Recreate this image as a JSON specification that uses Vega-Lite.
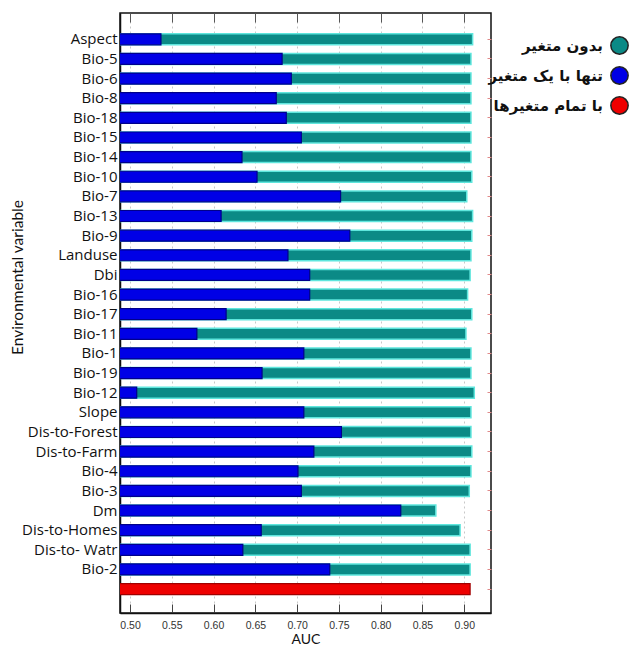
{
  "$schema": "https://vega.github.io/schema/vega-lite/v6.json",
  "autosize": "none",
  "width": 371,
  "height": 600,
  "padding": {"left": 120, "top": 13, "right": 142, "bottom": 35},
  "background": "white",
  "config": {
    "view": {"stroke": "#111", "strokeWidth": 1.5},
    "font": "Lato"
  },
  "data": {
    "values": [
      {"variable": "Aspect", "series": "بدون متغیر", "auc": 0.910},
      {"variable": "Aspect", "series": "تنها با یک متغیر", "auc": 0.537},
      {"variable": "Bio-5", "series": "بدون متغیر", "auc": 0.908},
      {"variable": "Bio-5", "series": "تنها با یک متغیر", "auc": 0.682},
      {"variable": "Bio-6", "series": "بدون متغیر", "auc": 0.908},
      {"variable": "Bio-6", "series": "تنها با یک متغیر", "auc": 0.693},
      {"variable": "Bio-8", "series": "بدون متغیر", "auc": 0.908},
      {"variable": "Bio-8", "series": "تنها با یک متغیر", "auc": 0.675},
      {"variable": "Bio-18", "series": "بدون متغیر", "auc": 0.908},
      {"variable": "Bio-18", "series": "تنها با یک متغیر", "auc": 0.687},
      {"variable": "Bio-15", "series": "بدون متغیر", "auc": 0.908},
      {"variable": "Bio-15", "series": "تنها با یک متغیر", "auc": 0.705},
      {"variable": "Bio-14", "series": "بدون متغیر", "auc": 0.908},
      {"variable": "Bio-14", "series": "تنها با یک متغیر", "auc": 0.634},
      {"variable": "Bio-10", "series": "بدون متغیر", "auc": 0.909},
      {"variable": "Bio-10", "series": "تنها با یک متغیر", "auc": 0.652},
      {"variable": "Bio-7", "series": "بدون متغیر", "auc": 0.903},
      {"variable": "Bio-7", "series": "تنها با یک متغیر", "auc": 0.752},
      {"variable": "Bio-13", "series": "بدون متغیر", "auc": 0.910},
      {"variable": "Bio-13", "series": "تنها با یک متغیر", "auc": 0.609},
      {"variable": "Bio-9", "series": "بدون متغیر", "auc": 0.909},
      {"variable": "Bio-9", "series": "تنها با یک متغیر", "auc": 0.763},
      {"variable": "Landuse", "series": "بدون متغیر", "auc": 0.908},
      {"variable": "Landuse", "series": "تنها با یک متغیر", "auc": 0.689},
      {"variable": "Dbi", "series": "بدون متغیر", "auc": 0.907},
      {"variable": "Dbi", "series": "تنها با یک متغیر", "auc": 0.715},
      {"variable": "Bio-16", "series": "بدون متغیر", "auc": 0.904},
      {"variable": "Bio-16", "series": "تنها با یک متغیر", "auc": 0.715},
      {"variable": "Bio-17", "series": "بدون متغیر", "auc": 0.909},
      {"variable": "Bio-17", "series": "تنها با یک متغیر", "auc": 0.615},
      {"variable": "Bio-11", "series": "بدون متغیر", "auc": 0.902},
      {"variable": "Bio-11", "series": "تنها با یک متغیر", "auc": 0.580},
      {"variable": "Bio-1", "series": "بدون متغیر", "auc": 0.908},
      {"variable": "Bio-1", "series": "تنها با یک متغیر", "auc": 0.708},
      {"variable": "Bio-19", "series": "بدون متغیر", "auc": 0.908},
      {"variable": "Bio-19", "series": "تنها با یک متغیر", "auc": 0.658},
      {"variable": "Bio-12", "series": "بدون متغیر", "auc": 0.912},
      {"variable": "Bio-12", "series": "تنها با یک متغیر", "auc": 0.508},
      {"variable": "Slope", "series": "بدون متغیر", "auc": 0.908},
      {"variable": "Slope", "series": "تنها با یک متغیر", "auc": 0.708},
      {"variable": "Dis-to-Forest", "series": "بدون متغیر", "auc": 0.908},
      {"variable": "Dis-to-Forest", "series": "تنها با یک متغیر", "auc": 0.753},
      {"variable": "Dis-to-Farm", "series": "بدون متغیر", "auc": 0.909},
      {"variable": "Dis-to-Farm", "series": "تنها با یک متغیر", "auc": 0.720},
      {"variable": "Bio-4", "series": "بدون متغیر", "auc": 0.908},
      {"variable": "Bio-4", "series": "تنها با یک متغیر", "auc": 0.701},
      {"variable": "Bio-3", "series": "بدون متغیر", "auc": 0.906},
      {"variable": "Bio-3", "series": "تنها با یک متغیر", "auc": 0.705},
      {"variable": "Dm", "series": "بدون متغیر", "auc": 0.866},
      {"variable": "Dm", "series": "تنها با یک متغیر", "auc": 0.824},
      {"variable": "Dis-to-Homes", "series": "بدون متغیر", "auc": 0.895},
      {"variable": "Dis-to-Homes", "series": "تنها با یک متغیر", "auc": 0.657},
      {"variable": "Dis-to- Watr", "series": "بدون متغیر", "auc": 0.907},
      {"variable": "Dis-to- Watr", "series": "تنها با یک متغیر", "auc": 0.635},
      {"variable": "Bio-2", "series": "بدون متغیر", "auc": 0.907},
      {"variable": "Bio-2", "series": "تنها با یک متغیر", "auc": 0.739},
      {"variable": "All", "series": "با تمام متغیرها", "auc": 0.907}
    ]
  },
  "resolve": {"axis": {"x": "independent", "y": "independent"}},
  "encoding": {
    "color": {
      "field": "series",
      "type": "nominal",
      "scale": {
        "domain": ["بدون متغیر", "تنها با یک متغیر", "با تمام متغیرها"],
        "range": ["#0b8a86", "#0000e6", "#ee0000"]
      },
      "legend": {
        "title": null,
        "orient": "none",
        "legendX": 490,
        "legendY": 23,
        "symbolType": "circle",
        "symbolSize": 300,
        "symbolStrokeColor": "#222",
        "symbolStrokeWidth": 1.5,
        "symbolOpacity": 1,
        "labelFont": "DejaVu Sans",
        "labelFontSize": 15,
        "labelFontWeight": "bold",
        "labelColor": "#111",
        "labelAlign": "right",
        "labelOffset": -26,
        "labelLimit": 300,
        "rowPadding": 5
      }
    }
  },
  "layer": [
    {
      "transform": [{"filter": "datum.series == 'بدون متغیر'"}],
      "mark": {"type": "bar", "clip": true, "stroke": "#5fe6dd", "strokeWidth": 1.5},
      "encoding": {
        "y": {
          "field": "variable",
          "type": "nominal",
          "sort": ["Aspect","Bio-5","Bio-6","Bio-8","Bio-18","Bio-15","Bio-14","Bio-10","Bio-7","Bio-13","Bio-9","Landuse","Dbi","Bio-16","Bio-17","Bio-11","Bio-1","Bio-19","Bio-12","Slope","Dis-to-Forest","Dis-to-Farm","Bio-4","Bio-3","Dm","Dis-to-Homes","Dis-to- Watr","Bio-2","All"],
          "scale": {"paddingInner": 0.44, "paddingOuter": 1.265, "align": 0.53},
          "axis": {
            "title": "Environmental variable",
            "titleFont": "Lato",
            "titleFontWeight": "normal",
            "titleFontSize": 15.5,
            "titleColor": "#111",
            "titleX": -95,
            "titleY": 264,
            "labelExpr": "datum.value == 'All' ? '' : datum.value",
            "labelFont": "Open Sans",
            "labelFontSize": 15,
            "labelColor": "#111",
            "labelPadding": 3,
            "ticks": false,
            "domainColor": "#111",
            "domainWidth": 1.5
          }
        },
        "x": {
          "field": "auc",
          "type": "quantitative",
          "scale": {"domain": [0.488, 0.932], "nice": false, "zero": false},
          "axis": {
            "title": "AUC",
            "titleFont": "Lato",
            "titleFontWeight": "normal",
            "titleFontSize": 14,
            "titleColor": "#111",
            "titlePadding": 2,
            "values": [0.5, 0.55, 0.6, 0.65, 0.7, 0.75, 0.8, 0.85, 0.9],
            "format": ".2f",
            "labelFont": "Liberation Sans",
            "labelFontSize": 10.5,
            "labelColor": "#333",
            "labelPadding": 16,
            "tickSize": -9,
            "tickColor": "#444",
            "domainColor": "#111",
            "domainWidth": 1.5,
            "grid": true,
            "gridColor": "#c8c8c8",
            "gridDash": [2, 3]
          }
        }
      }
    },
    {
      "transform": [{"filter": "datum.series == 'تنها با یک متغیر'"}],
      "mark": {"type": "bar", "clip": true, "stroke": "#00008b", "strokeWidth": 1.2},
      "encoding": {
        "y": {
          "field": "variable",
          "type": "nominal",
          "sort": ["Aspect","Bio-5","Bio-6","Bio-8","Bio-18","Bio-15","Bio-14","Bio-10","Bio-7","Bio-13","Bio-9","Landuse","Dbi","Bio-16","Bio-17","Bio-11","Bio-1","Bio-19","Bio-12","Slope","Dis-to-Forest","Dis-to-Farm","Bio-4","Bio-3","Dm","Dis-to-Homes","Dis-to- Watr","Bio-2","All"],
          "axis": null
        },
        "x": {
          "field": "auc",
          "type": "quantitative",
          "axis": {
            "orient": "top",
            "title": null,
            "labels": false,
            "domain": false,
            "grid": false,
            "values": [0.5, 0.55, 0.6, 0.65, 0.7, 0.75, 0.8, 0.85, 0.9],
            "tickSize": -9,
            "tickColor": "#555"
          }
        }
      }
    },
    {
      "transform": [{"filter": "datum.series == 'با تمام متغیرها'"}],
      "mark": {"type": "bar", "clip": true, "stroke": "#a00000", "strokeWidth": 1.2},
      "encoding": {
        "y": {
          "field": "variable",
          "type": "nominal",
          "sort": ["Aspect","Bio-5","Bio-6","Bio-8","Bio-18","Bio-15","Bio-14","Bio-10","Bio-7","Bio-13","Bio-9","Landuse","Dbi","Bio-16","Bio-17","Bio-11","Bio-1","Bio-19","Bio-12","Slope","Dis-to-Forest","Dis-to-Farm","Bio-4","Bio-3","Dm","Dis-to-Homes","Dis-to- Watr","Bio-2","All"],
          "axis": {
            "orient": "right",
            "title": null,
            "labels": false,
            "domain": false,
            "grid": false,
            "tickSize": -4,
            "tickColor": "#e08a8a"
          }
        },
        "x": {
          "field": "auc",
          "type": "quantitative",
          "axis": null
        }
      }
    }
  ]
}
